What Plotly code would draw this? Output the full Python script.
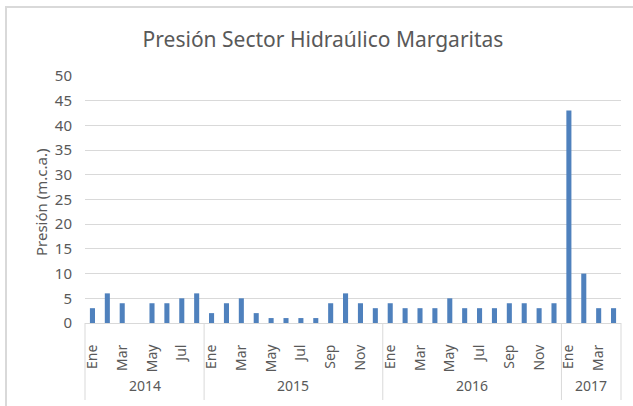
import plotly.graph_objects as go

years = ["2014", "2015", "2016", "2017"]
months_per_year = {
    "2014": ["Ene", "Feb", "Mar", "Abr", "May", "Jun", "Jul", "Ago"],
    "2015": ["Ene", "Feb", "Mar", "Abr", "May", "Jun", "Jul", "Ago", "Sep", "Oct", "Nov", "Dic"],
    "2016": ["Ene", "Feb", "Mar", "Abr", "May", "Jun", "Jul", "Ago", "Sep", "Oct", "Nov", "Dic"],
    "2017": ["Ene", "Feb", "Mar", "Abr"],
}
values_2014 = [3, 6, 4, 0, 4, 4, 5, 6]
values_2015 = [2, 4, 5, 2, 1, 1, 1, 1, 4, 6, 4, 3]
values_2016 = [4, 3, 3, 3, 5, 3, 3, 3, 4, 4, 3, 4]
values_2017 = [43, 10, 3, 3]
y_ticks = [0, 5, 10, 15, 20, 25, 30, 35, 40, 45, 50]

values_by_year = {"2014": values_2014, "2015": values_2015,
                  "2016": values_2016, "2017": values_2017}

cats, vals, tickvals, ticktext = [], [], [], []
year_spans = []
idx = 0
for yr in years:
    start = idx
    for m, v in zip(months_per_year[yr], values_by_year[yr]):
        c = f"{yr}-{m}"
        cats.append(c)
        vals.append(v)
        if idx % 2 == 0:
            tickvals.append(c)
            ticktext.append(m)
        idx += 1
    year_spans.append((yr, start, idx))
n = len(cats)

TXT = "#595959"
FONT = "Noto Sans"
W, H = 633, 406
L, R, T, B = 85, 12, 76, 83
pw, ph = W - L - R, H - T - B

fig = go.Figure(go.Bar(x=cats, y=vals, marker_color="#4F81BD", marker_line_width=0))

shapes = []
annotations = []
bounds = [s for _, s, _ in year_spans] + [n]
for b in bounds:
    xp = b / n
    shapes.append(dict(type="line", xref="paper", yref="paper", x0=xp, x1=xp,
                       y0=0, y1=-(400 - (H - B)) / ph,
                       line=dict(color="#D9D9D9", width=1)))
for yr, s, e in year_spans:
    annotations.append(dict(text=yr, xref="paper", yref="paper",
                            x=(s + e) / 2 / n, y=-(385 - (H - B)) / ph,
                            xanchor="center", yanchor="middle", showarrow=False,
                            font=dict(family=FONT, size=14, color=TXT)))
annotations.append(dict(text="Presión (m.c.a.)", xref="paper", yref="paper",
                        x=(41 - L) / pw, y=0.5 - (203 - (T + ph / 2)) / ph,
                        xanchor="center", yanchor="middle", textangle=-90,
                        showarrow=False, font=dict(family=FONT, size=15, color=TXT)))
shapes.append(dict(type="rect", xref="paper", yref="paper",
                   x0=(6 - L) / pw, x1=(W + 10 - L) / pw,
                   y0=-(H + 10 - (H - B)) / ph, y1=1 + (T - 7) / ph,
                   line=dict(color="#D9D9D9", width=2), layer="above"))

fig.update_layout(
    width=W, height=H,
    margin=dict(l=L, r=R, t=T, b=B),
    paper_bgcolor="white", plot_bgcolor="white",
    bargap=0.66,
    showlegend=False,
    title=dict(text="Presión Sector Hidraúlico Margaritas", xref="container", yref="container",
               x=323 / W, y=1 - 40 / H, xanchor="center", yanchor="middle",
               font=dict(family=FONT, size=21, color=TXT)),
    font=dict(family=FONT, color=TXT),
    shapes=shapes,
    annotations=annotations,
    xaxis=dict(type="category", categoryorder="array", categoryarray=cats,
               range=[-0.5, n - 0.5], tickmode="array", tickvals=tickvals, ticktext=ticktext,
               tickangle=-90, tickfont=dict(family=FONT, size=14, color=TXT),
               showgrid=False, showline=True, linecolor="#D9D9D9", linewidth=1,
               ticks="", ticklabelstandoff=15, zeroline=False),
    yaxis=dict(range=[0, 50], tickmode="array", tickvals=y_ticks,
               tickfont=dict(family=FONT, size=15, color=TXT),
               showgrid=True, gridcolor="#D9D9D9", gridwidth=1,
               zeroline=False, showline=False, ticks="", ticklabelstandoff=12),
)

fig.write_html("out.html", config={"displayModeBar": False},
               post_script="document.body.style.margin='0';")
